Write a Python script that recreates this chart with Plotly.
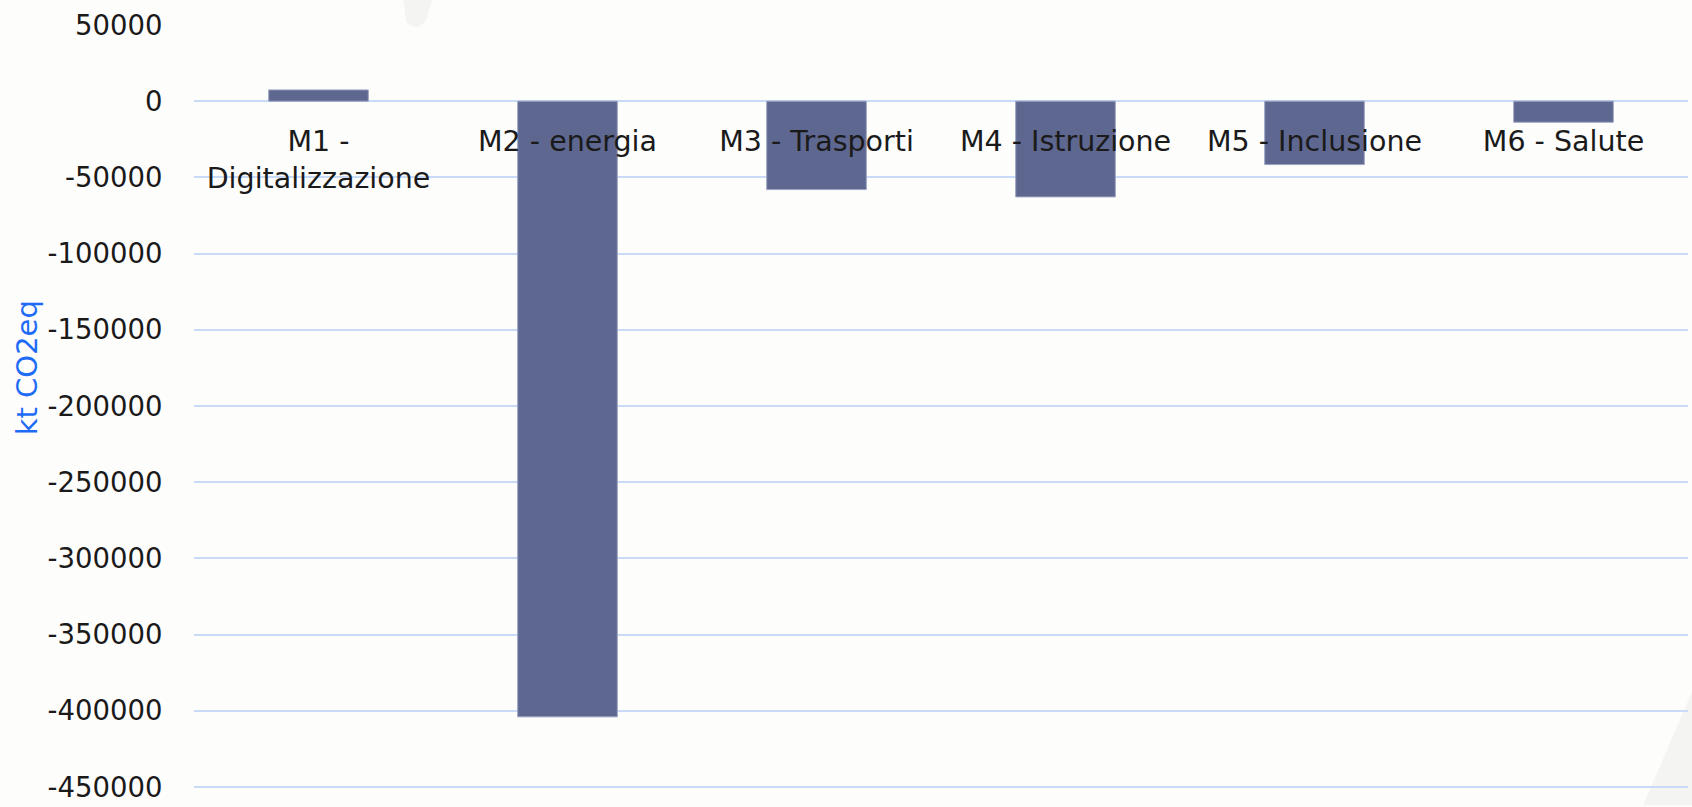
import plotly.graph_objects as go

categories = ["M1 -<br>Digitalizzazione", "M2 - energia", "M3 - Trasporti",
              "M4 - Istruzione", "M5 - Inclusione", "M6 - Salute"]
values = [7400, -404000, -58000, -62800, -41600, -13800]
y_ticks = [50000, 0, -50000, -100000, -150000, -200000, -250000,
           -300000, -350000, -400000, -450000]
y_title = "kt CO2eq"

W, H = 1692, 807
ml, mr, mt, mb = 194, 4, 25, 11
ymin, ymax = -452000, 50000
plot_h = H - mt - mb

fig = go.Figure()
fig.add_trace(go.Bar(
    x=categories, y=values,
    marker=dict(color="#5E678F", line=dict(color="#9CA2C0", width=1)),
    width=0.4,
))

font = "DejaVu Sans"
fig.update_layout(
    width=W, height=H,
    margin=dict(l=ml, r=mr, t=mt, b=mb, pad=0),
    paper_bgcolor="#FDFDFC", plot_bgcolor="#FDFDFC",
    showlegend=False,
    font=dict(family=font, size=27.5, color="#1A1A1A"),
    bargap=0.6,
)
fig.update_yaxes(
    range=[ymin, ymax], tickvals=y_ticks, ticktext=[str(v) for v in y_ticks],
    showgrid=True, gridcolor="#C9DAF8", gridwidth=2,
    zeroline=False, showline=False,
    ticks="outside", ticklen=0, ticklabelstandoff=25,
    ticklabeloverflow="allow",
    tickfont=dict(family=font, size=27.5, color="#1A1A1A"),
)
fig.update_xaxes(
    type="category",
    anchor="free", position=(0 - ymin) / (ymax - ymin),
    showgrid=False, showline=False, zeroline=False,
    ticks="outside", ticklen=0, ticklabelstandoff=15,
    tickfont=dict(family=font, size=28.5, color="#1A1A1A"),
)
fig.add_annotation(
    text=y_title, textangle=-90,
    xref="paper", yref="paper",
    x=-(ml - 27) / (W - ml - mr), y=(H - mb - 371) / plot_h,
    xanchor="center", yanchor="middle", showarrow=False,
    font=dict(family=font, size=29, color="#1E6BF5"),
)
# faint background watermark shapes
fig.add_shape(type="path", xref="paper", yref="paper",
              path="M 0.14,1.035 L 0.16,1.035 L 0.155,1.005 Q 0.148,0.99 0.142,1.005 Z",
              fillcolor="#F4F4F3", line=dict(width=0), layer="below")
fig.add_shape(type="path", xref="paper", yref="paper",
              path="M 1.003,0.13 L 1.003,-0.02 L 0.97,-0.02 Z",
              fillcolor="#F4F4F3", line=dict(width=0), layer="below")

fig.write_html(
    "out.html", config={"displayModeBar": False},
    post_script=("document.documentElement.style.overflow='hidden';"
                 "document.documentElement.style.height='807px';"
                 "document.body.style.margin='0';"
                 "document.body.style.height='807px';"
                 "document.body.style.overflow='hidden';"
                 "var d=document.getElementById('{plot_id}');"
                 "d.style.overflow='hidden';d.style.height='807px';"),
)
